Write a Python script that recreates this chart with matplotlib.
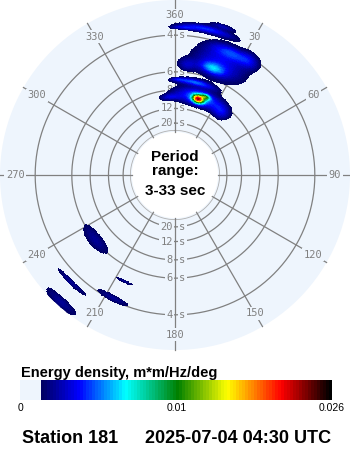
import numpy as np
import matplotlib
matplotlib.use("Agg")
import matplotlib.pyplot as plt
from matplotlib.colors import ListedColormap, LinearSegmentedColormap, PowerNorm

# Frequency span of the plot (Hz): 33 s at the inner edge, 3 s at the rim
F_MIN, F_MAX = 0.03, 0.33
R_ORIGIN = -0.068          # puts the 33 s edge a quarter of the way out

RING_PERIODS = [4, 6, 8, 12, 20]
RING_LABELS = ["4", "6", "8", "12", "20"]
SPOKE_DIRS = [0, 30, 60, 90, 120, 150, 180, 210, 240, 270, 300, 330]
SPOKE_LABELS = ["360", "30", "60", "90", "120", "150", "180",
                "210", "240", "270", "300", "330"]

# Spectral energy patches: direction (deg from), frequency (Hz), spreads, peak (m*m/Hz/deg)
BLOB_DIR = [17, 21.5, 18, 356, 36, 12, 2, 22, 6, 19.5, 25, 12, 3, 18, 33,
            231, 222, 224, 207, 205.4]
BLOB_FREQ = [0.113, 0.123, 0.117, 0.110, 0.110, 0.148, 0.150, 0.205, 0.185,
             0.19, 0.238, 0.272, 0.268, 0.287, 0.245,
             0.166, 0.321, 0.272, 0.246, 0.200]
BLOB_DIR_SPREAD = [2.8, 2.2, 12, 5, 4, 8, 3, 9, 3.5, 4, 6, 7.5, 3, 3.5, 3,
                   8.6, 5.6, 6.3, 6.0, 4.0]
BLOB_FREQ_SPREAD = [0.006, 0.004, 0.013, 0.005, 0.012, 0.005, 0.003, 0.025,
                    0.010, 0.008, 0.010, 0.006, 0.003, 0.004, 0.012,
                    0.0127, 0.0098, 0.0045, 0.006, 0.0025]
BLOB_PEAK = [0.019, 0.007, 0.004, 0.0016, 0.0016, 0.0035, 0.0013, 0.0025,
             0.0015, 0.0035, 0.0025, 0.003, 0.0015, 0.0015, 0.0015,
             0.0012, 0.0012, 0.0012, 0.0012, 0.0012]

E_MAX = 0.026
CBAR_TICKS = [0, 0.01, 0.026]
CBAR_TICK_LABELS = ["0", "0.01", "0.026"]

STATION = "Station 181"
TIMESTAMP = "2025-07-04 04:30 UTC"

BG = "#eef5fd"
GRID = "#808080"

# colour scale: a pale "no energy" band then a jet-like ramp ending in black
n_low, n_ramp = 7, 97
ramp = LinearSegmentedColormap.from_list("ramp", [
    (0.0, "#000064"), (0.127, "#0000ff"), (0.289, "#00ffff"),
    (0.47, "#008000"), (0.643, "#ffff00"), (0.83, "#ff0000"),
    (1.0, "#000000")])
colors = [BG] * n_low + [ramp(i / (n_ramp - 1)) for i in range(n_ramp)]
cmap = ListedColormap(colors)
norm = PowerNorm(gamma=0.72, vmin=0, vmax=E_MAX)
threshold = norm.inverse(n_low / (n_low + n_ramp))

# build the directional spectrum on a fine grid
dir_edges = np.arange(0, 360.5, 0.5)
f_edges = np.arange(F_MIN, F_MAX + 0.0005, 0.001)
dir_c = 0.5 * (dir_edges[1:] + dir_edges[:-1])
f_c = 0.5 * (f_edges[1:] + f_edges[:-1])
D, F = np.meshgrid(dir_c, f_c)
E = np.zeros_like(D)
for d0, f0, sd, sf, pk in zip(BLOB_DIR, BLOB_FREQ, BLOB_DIR_SPREAD,
                              BLOB_FREQ_SPREAD, BLOB_PEAK):
    dd = (D - d0 + 180) % 360 - 180
    E += pk * np.exp(-0.5 * ((dd / sd) ** 2 + ((F - f0) / sf) ** 2))
E = np.ma.masked_less(E, threshold)

fig = plt.figure(figsize=(3.5, 4.5), dpi=100)
ax = fig.add_axes([0, 100 / 450, 1, 350 / 450], projection="polar")
ax.set_theta_zero_location("N")
ax.set_theta_direction(-1)
ax.set_rlim(F_MIN, F_MAX)
ax.set_rorigin(R_ORIGIN)
ax.set_facecolor(BG)
ax.patch.set_edgecolor("none")
ax.grid(False)
ax.set_xticks([])
ax.set_yticks([])
# polar axes re-enable the inner spine at draw time, so blank it out instead
for sp in ax.spines.values():
    sp.set_edgecolor("none")
    sp.set_linewidth(0)

# period rings
theta = np.linspace(0, 2 * np.pi, 721)
for T in RING_PERIODS:
    ax.plot(theta, np.full_like(theta, 1.0 / T), color=GRID, lw=0.9, zorder=1)
ax.plot(theta, np.full_like(theta, 0.0335), color="#b0b0b0", lw=0.6, zorder=1)

# period labels on the north and south spokes
mono = "DejaVu Sans Mono"
for T, lab in zip(RING_PERIODS, RING_LABELS):
    for th in (0.0, np.pi):
        box = dict(boxstyle="square,pad=0.12", fc=BG, ec="none")
        ax.annotate(lab, xy=(th, 1.0 / T), xytext=(-1.5, 0),
                    textcoords="offset points", ha="right", va="center",
                    fontsize=7.5, color=GRID, family=mono, bbox=box, zorder=2)
        ax.annotate("s", xy=(th, 1.0 / T), xytext=(3, 0),
                    textcoords="offset points", ha="left", va="center",
                    fontsize=7.5, color=GRID, family=mono, bbox=box, zorder=2)

# direction spokes with their labels near the rim
for d, lab in zip(SPOKE_DIRS, SPOKE_LABELS):
    th = np.deg2rad(d)
    ax.plot([th, th], [F_MIN, F_MAX], color=GRID, lw=0.9, zorder=2.5,
            clip_on=False)
    ax.text(th, 0.2955, lab, ha="center", va="center", fontsize=7.5,
            color=GRID, family=mono, zorder=2.6,
            bbox=dict(boxstyle="square,pad=0.15", fc=BG, ec="none"))

mesh = ax.pcolormesh(np.deg2rad(dir_edges), f_edges, E, cmap=cmap, norm=norm,
                     shading="flat", antialiased=False, zorder=4)

# centre caption
sans = "Liberation Sans"
for txt, yb in (("Period", 161.5), ("range:", 175), ("3-33 sec", 195)):
    fig.text(175 / 350, 1 - yb / 450, txt, ha="center", va="baseline",
             fontsize=11, fontweight="bold", family=sans)

# colour bar
fig.text(21 / 350, 1 - 377 / 450, "Energy density, m*m/Hz/deg", ha="left",
         va="baseline", fontsize=10.5, fontweight="bold", family=sans)
cax = fig.add_axes([20 / 350, 50 / 450, 312 / 350, 20 / 450])
cb = fig.colorbar(mesh, cax=cax, orientation="horizontal")
cb.outline.set_visible(False)
cb.set_ticks(CBAR_TICKS, labels=CBAR_TICK_LABELS)
cax.tick_params(length=0, labelsize=7.5, pad=2)
for t in cax.get_xticklabels():
    t.set_family(sans)

fig.text(22 / 350, 1 - 443 / 450, STATION, ha="left", va="baseline",
         fontsize=13, fontweight="bold", family=sans)
fig.text(145 / 350, 1 - 443 / 450, TIMESTAMP, ha="left", va="baseline",
         fontsize=13, fontweight="bold", family=sans)

fig.savefig("out.png", dpi=100, facecolor="white")
